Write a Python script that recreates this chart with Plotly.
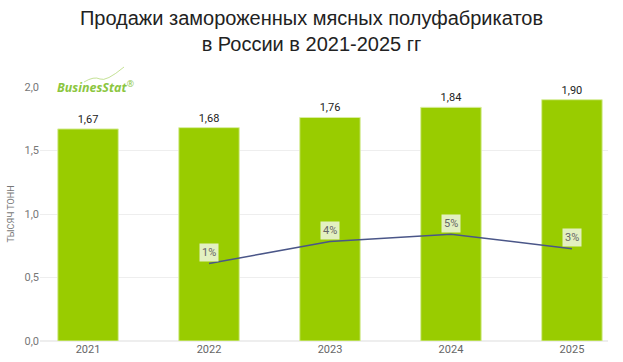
import plotly.graph_objects as go

years = ["2021", "2022", "2023", "2024", "2025"]
sales = [1.67, 1.68, 1.76, 1.84, 1.90]
growth_years = ["2022", "2023", "2024", "2025"]
growth = [1, 4, 5, 3]
growth_labels = ["1%", "4%", "5%", "3%"]

W, H = 623, 362
top, bottom = 87, 341
left, right = 40, 608

fig = go.Figure()
fig.add_trace(go.Bar(
    x=years, y=sales, width=0.5,
    marker=dict(color="#99cc00", line=dict(color="#d9eea0", width=1)),
    text=[f"{v:.2f}".replace(".", ",") for v in sales],
    textposition="outside", cliponaxis=False,
    textfont=dict(family="Roboto", size=11, color="#222222"),
    hoverinfo="skip",
))
fig.add_trace(go.Scatter(
    x=growth_years, y=growth, yaxis="y2", mode="lines",
    line=dict(color="#4a5688", width=1.5), hoverinfo="skip",
))
for xv, yv, lab in zip(growth_years, growth, growth_labels):
    fig.add_annotation(x=years.index(xv), y=yv, xref="x", yref="y2", text=lab,
                       showarrow=False, yshift=11, bgcolor="#e3f0c1", borderpad=2,
                       font=dict(family="Roboto", size=11, color="#666666"))

# logo
fig.add_annotation(xref="paper", yref="paper", x=(55 - left) / (right - left),
                   y=(bottom - 87) / (bottom - top), xanchor="left", yanchor="middle",
                   text="<b><i>BusinesStat</i></b><sup>®</sup>", showarrow=False,
                   font=dict(family="Open Sans", size=12.5, color="#8cc63f"))
fig.add_shape(type="path", xref="paper", yref="paper",
              path="M {:.4f} {:.4f} Q {:.4f} {:.4f} {:.4f} {:.4f} T {:.4f} {:.4f}".format(
                  (84 - left) / 568, (bottom - 82) / 254,
                  (94 - left) / 568, (bottom - 76) / 254,
                  (100 - left) / 568, (bottom - 79) / 254,
                  (124 - left) / 568, (bottom - 67) / 254),
              line=dict(color="#b5d97a", width=0.8))

fig.update_layout(
    width=W, height=H,
    margin=dict(l=left, r=W - right, t=top, b=H - bottom),
    paper_bgcolor="white", plot_bgcolor="white",
    separators=", ",
    showlegend=False,
    title=dict(text="Продажи замороженных мясных полуфабрикатов<br>в России в 2021-2025 гг",
               x=0.5, xanchor="center", y=0.93, yanchor="top",
               font=dict(family="Liberation Sans", size=20, color="#222222")),
    xaxis=dict(type="category", range=[-0.397, 4.298], showgrid=False,
               showline=False, ticks="", automargin=False,
               tickfont=dict(family="Roboto", size=11, color="#666666")),
    yaxis=dict(range=[0, 2.0], dtick=0.5, tickformat=".1f", showgrid=True,
               automargin=False,
               gridcolor="#eeeeee", gridwidth=1, zeroline=True, zerolinecolor="#eeeeee",
               tickfont=dict(family="Roboto", size=11, color="#777777"),
               title=dict(text="ТЫСЯЧ ТОНН", standoff=8,
                          font=dict(family="Roboto", size=9, color="#777777"))),
    yaxis2=dict(range=[-9.54, 25.02], overlaying="y", side="right",
                showticklabels=False, showgrid=False, zeroline=False,
                showline=False, ticks="", automargin=False),
)
fig.write_html("out.html", config={"displayModeBar": False},
               post_script="document.body.style.margin='0';document.body.style.overflow='hidden';")
